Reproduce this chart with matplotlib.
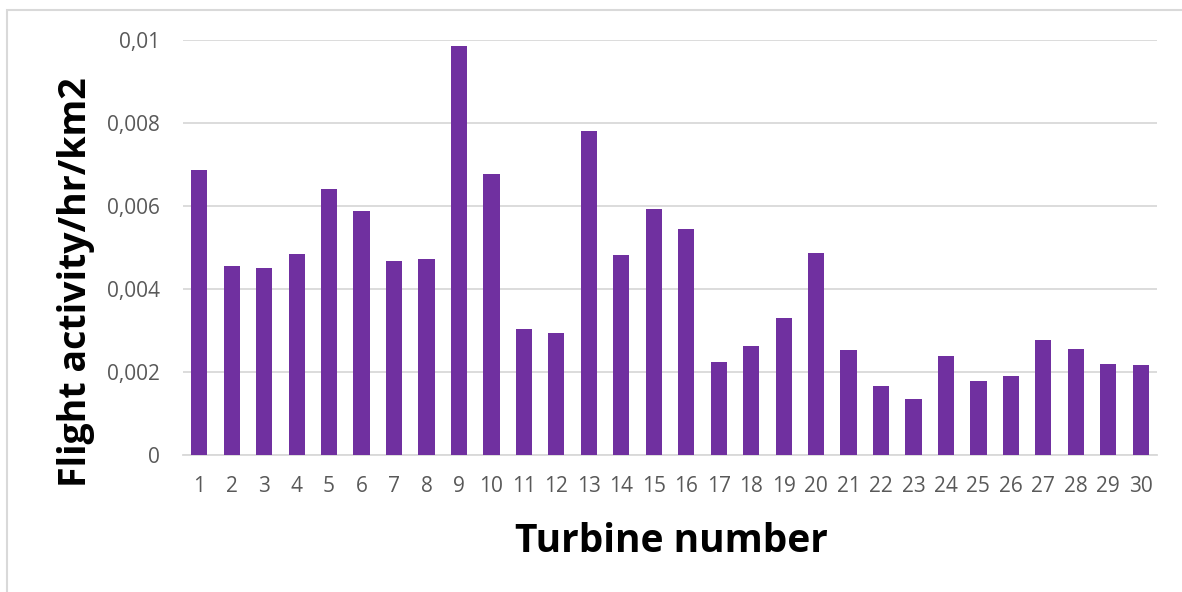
import numpy as np
import matplotlib.pyplot as plt
from matplotlib.patches import Rectangle

turbines = [str(i) for i in range(1, 31)]
activity = [0.00687, 0.00455, 0.00451, 0.00484, 0.00641, 0.00588, 0.00467, 0.00472,
            0.00986, 0.00677, 0.00304, 0.00294, 0.00781, 0.00482, 0.00593, 0.00545,
            0.00224, 0.00263, 0.00330, 0.00487, 0.00253, 0.00166, 0.00135, 0.00239,
            0.00178, 0.00190, 0.00277, 0.00255, 0.00219, 0.00217]
yticks = [0, 0.002, 0.004, 0.006, 0.008, 0.01]
ytick_labels = ['0', '0,002', '0,004', '0,006', '0,008', '0,01']

plt.rcParams['font.family'] = ['Open Sans', 'DejaVu Sans']

fig = plt.figure(figsize=(11.82, 5.92), dpi=100)
# outer chart border (partly cut off on right/bottom)
fig.patches.append(Rectangle((7 / 1182, -0.1), 1.2, 1 - 10 / 592 + 0.1,
                             transform=fig.transFigure, fill=False,
                             edgecolor='#D9D9D9', linewidth=1.5))

ax = fig.add_axes([183 / 1182, 1 - 455 / 592, (1157 - 183) / 1182, (455 - 40) / 592])
x = np.arange(len(turbines))
ax.bar(x, activity, width=0.5, color='#7030A0', zorder=3)

ax.set_xlim(-0.5, len(turbines) - 0.5)
ax.set_ylim(0, 0.01)
ax.set_xticks(x)
ax.set_xticklabels(turbines)
ax.set_yticks(yticks)
ax.set_yticklabels(ytick_labels)
ax.tick_params(length=0, labelsize=15, colors='#595959')
ax.tick_params(axis='y', pad=16.5)
ax.tick_params(axis='x', pad=15)
ax.grid(axis='y', color='#D9D9D9', linewidth=1.3, zorder=0)
for s in ['top', 'right', 'left']:
    ax.spines[s].set_visible(False)
ax.spines['bottom'].set_color('#D9D9D9')
ax.spines['bottom'].set_linewidth(1.3)

fig.text(76 / 1182, 1 - 282 / 592, 'Flight activity/hr/km2', rotation=90,
         ha='center', va='center', fontsize=27, fontweight='bold')
fig.text(671 / 1182, 1 - 541 / 592, 'Turbine number', ha='center', va='center',
         fontsize=28, fontweight='bold')

fig.savefig('out.png', dpi=100)
